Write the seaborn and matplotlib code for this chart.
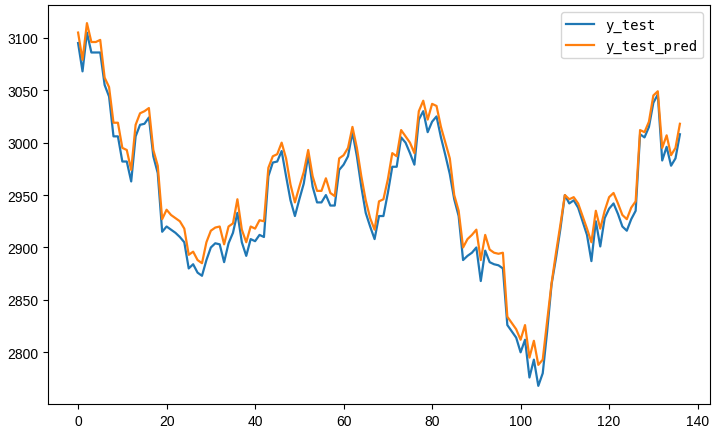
import matplotlib
matplotlib.use("Agg")
import matplotlib.pyplot as plt
import pandas as pd
import seaborn as sns

# 测试集真实值
y_test = [3095, 3068, 3105, 3086, 3086, 3086, 3055, 3044, 3006, 3006,
          2982, 2982, 2963, 3006, 3017, 3018, 3024, 2987, 2971, 2915,
          2920, 2917, 2914, 2910, 2905, 2880, 2884, 2876, 2873, 2888,
          2900, 2904, 2903, 2886, 2904, 2914, 2933, 2905, 2892, 2908,
          2906, 2912, 2910, 2968, 2981, 2982, 2992, 2968, 2945, 2930,
          2946, 2961, 2988, 2958, 2943, 2943, 2950, 2940, 2940, 2974,
          2979, 2987, 3010, 2987, 2958, 2933, 2920, 2908, 2930, 2930,
          2952, 2977, 2977, 3005, 3000, 2990, 2979, 3022, 3030, 3010,
          3020, 3025, 3005, 2988, 2970, 2946, 2930, 2888, 2892, 2895,
          2900, 2868, 2897, 2886, 2884, 2883, 2880, 2826, 2820, 2814,
          2800, 2812, 2776, 2793, 2768, 2780, 2820, 2865, 2890, 2918,
          2950, 2942, 2945, 2938, 2925, 2912, 2887, 2925, 2901, 2928,
          2937, 2942, 2932, 2920, 2916, 2927, 2935, 3008, 3005, 3015,
          3038, 3046, 2983, 2996, 2978, 2985, 3008]

# 测试集预测值
y_test_pred = [3105, 3079, 3114, 3096, 3096, 3098, 3062, 3053, 3019, 3019,
               2995, 2993, 2974, 3017, 3028, 3030, 3033, 2993, 2978, 2927,
               2936, 2931, 2928, 2925, 2918, 2893, 2896, 2888, 2885, 2905,
               2916, 2919, 2920, 2903, 2920, 2923, 2946, 2917, 2905, 2920,
               2918, 2926, 2925, 2976, 2987, 2989, 3000, 2985, 2960, 2943,
               2958, 2972, 2993, 2968, 2954, 2954, 2966, 2952, 2949, 2985,
               2988, 2995, 3015, 2995, 2968, 2945, 2928, 2917, 2944, 2946,
               2965, 2990, 2987, 3012, 3006, 3000, 2990, 3030, 3040, 3022,
               3037, 3035, 3015, 3000, 2985, 2950, 2935, 2900, 2908, 2912,
               2917, 2888, 2912, 2898, 2895, 2894, 2895, 2834, 2828, 2822,
               2812, 2826, 2795, 2811, 2788, 2793, 2830, 2866, 2895, 2922,
               2950, 2946, 2948, 2942, 2930, 2918, 2905, 2935, 2918, 2935,
               2948, 2952, 2942, 2931, 2927, 2938, 2944, 3012, 3010, 3020,
               3045, 3049, 2995, 3007, 2988, 2995, 3018]

df = pd.DataFrame({"y_test": y_test, "y_test_pred": y_test_pred})

plt.rcParams['font.family'] = ['Liberation Sans', 'DejaVu Sans']

fig = plt.figure(figsize=(7.12, 4.31), dpi=100)
ax = fig.add_axes([48 / 712, 1 - 405 / 431, 662 / 712, 399 / 431])

sns.lineplot(data=df, dashes=False, palette=["#1f77b4", "#ff7f0e"],
             linewidth=1.6, ax=ax)

ax.set_xticks(range(0, 141, 20))
ax.set_yticks(range(2800, 3101, 50))
ax.tick_params(labelsize=10)
ax.legend(loc="upper right", prop={'family': 'DejaVu Sans Mono', 'size': 10})

fig.savefig("out.png", dpi=100)
